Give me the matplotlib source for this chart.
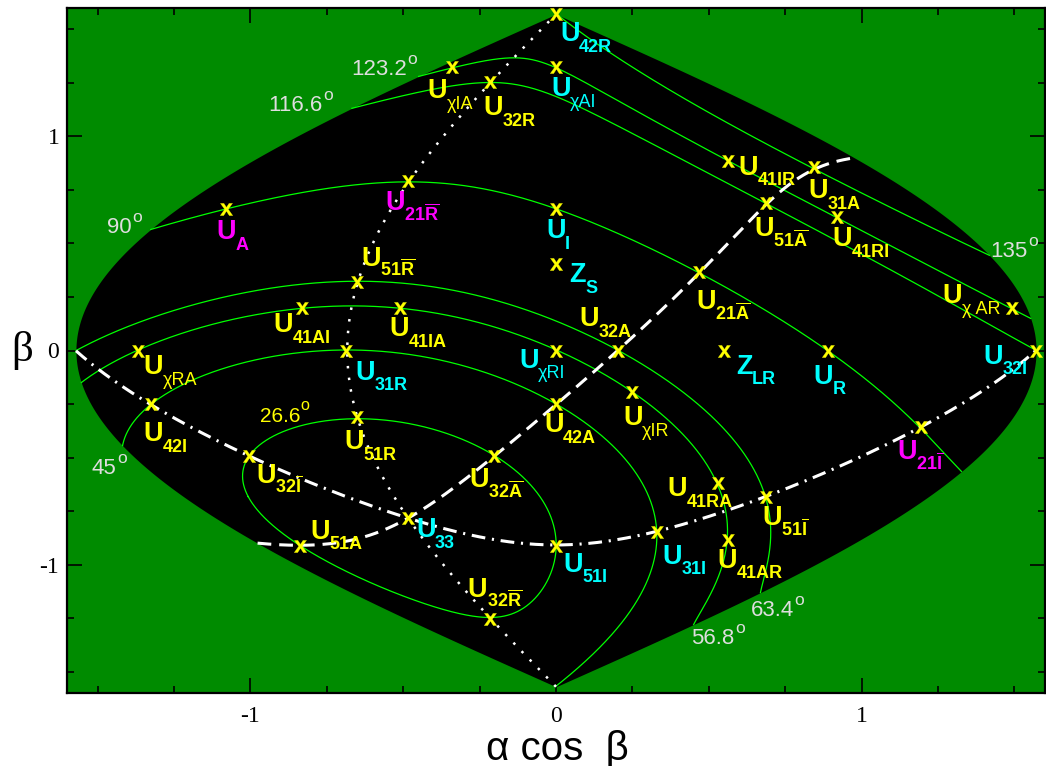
import numpy as np
import matplotlib
matplotlib.use('Agg')
import matplotlib.pyplot as plt
from matplotlib.ticker import MultipleLocator, FixedLocator

plt.rcParams['mathtext.fontset'] = 'custom'
plt.rcParams['mathtext.rm'] = 'Liberation Sans'
plt.rcParams['mathtext.it'] = 'Liberation Sans'
plt.rcParams['mathtext.bf'] = 'Liberation Sans:bold'
plt.rcParams['axes.unicode_minus'] = False

# ---------------- data ----------------
# point symbols: main letter, subscript, projected coords (alpha*cos(beta), beta)
point_main = ['U', 'U', 'U', 'U', 'U', 'U', 'U', 'Z', 'U', 'U',
              'U', 'U', 'U', 'U', 'U', 'Z', 'U', 'U', 'U', 'U',
              'U', 'U', 'U', 'U', 'U', 'U', 'U', 'U', 'U', 'U',
              'U', 'U', 'U', 'U', 'U', 'U', 'U', 'U', 'U']
point_sub = ['42R', 'χAI', 'χIA', '32R', r'$\mathbf{21\overline{R}}$', 'A', 'I', 'S',
             r'$\mathbf{51\overline{R}}$', '41AI',
             '41IA', 'χRA', '31R', 'χRI', '32A', 'LR', 'R', '32I', '41IR', '31A',
             r'$\mathbf{51\overline{A}}$', '41RI', r'$\mathbf{21\overline{A}}$', 'χ AR', '42A',
             'χIR', '42I', r'$\mathbf{32\overline{I}}$', '51R', r'$\mathbf{32\overline{A}}$',
             '33', '51A', '51I', r'$\mathbf{32\overline{R}}$', '41RA', '31I', '41AR',
             r'$\mathbf{51\overline{I}}$', r'$\mathbf{21\overline{I}}$']
point_x = [0.0, 0.0, -0.341, -0.215, -0.484, -1.081, 0.0, 0.0, -0.650, -0.830,
           -0.512, -1.369, -0.686, 0.0, 0.202, 0.549, 0.889, 1.570, 0.562, 0.843,
           0.687, 0.919, 0.469, 1.491, 0.0, 0.249, -1.326, -1.004, -0.650, -0.203,
           -0.484, -0.839, 0.0, -0.217, 0.529, 0.330, 0.562, 0.687, 1.194]
point_y = [1.571, 1.323, 1.323, 1.253, 0.790, 0.661, 0.661, 0.404, 0.321, 0.197,
           0.197, 0.0, 0.0, 0.0, 0.0, 0.0, 0.0, 0.0, 0.886, 0.856,
           0.689, 0.622, 0.365, 0.197, -0.250, -0.195, -0.250, -0.491, -0.312, -0.494,
           -0.783, -0.912, -0.912, -1.254, -0.619, -0.846, -0.885, -0.686, -0.359]
point_color = ['c', 'c', 'y', 'y', 'm', 'm', 'c', 'c', 'y', 'y',
               'y', 'y', 'c', 'c', 'y', 'c', 'c', 'c', 'y', 'y',
               'y', 'y', 'y', 'y', 'y', 'y', 'y', 'y', 'y', 'y',
               'c', 'y', 'c', 'y', 'y', 'c', 'y', 'y', 'm']

# circles of constant angular distance from U_33 (degrees)
circle_angles = [26.6, 45, 56.8, 63.4, 90, 116.6, 123.2, 135]
circle_labels = ['26.6', '45', '56.8', '63.4', '90', '116.6', '123.2', '135']

# ---------------- layout (label offsets in pixels: right, down) ----------------
label_off = [(4, 27), (-5, 29), (-24, 31), (-7, 33), (-23, 29), (-9, 30), (-10, 29), (13, 18),
             (4, -16), (-29, 24), (-10, 28), (6, 24), (9, 29), (-37, 17), (-38, -24), (12, 23),
             (-14, 33), (-52, 13), (11, 14), (-5, 31), (-12, 33), (-4, 29), (-3, 37), (-69, -5),
             (-12, 28), (-9, 33), (-7, 37), (7, 27), (-13, 32), (-25, 31), (8, 19), (11, -7),
             (7, 26), (-22, -22), (-50, 13), (6, 32), (-10, 28), (-4, 28), (-24, 32)]
angle_label_pos = {'26.6': (-0.969, -0.336), '45': (-1.519, -0.577), '56.8': (0.442, -1.371),
                   '63.4': (0.637, -1.242), '90': (-1.470, 0.548), '116.6': (-0.942, 1.120),
                   '123.2': (-0.670, 1.287), '135': (1.422, 0.435)}

cmap = {'y': '#ffff00', 'c': '#00ffff', 'm': '#ff00ff'}

# ---------------- geometry helpers ----------------
def vec(xp, b):
    a = xp / np.cos(b) if abs(np.cos(b)) > 1e-9 else 0.0
    return np.array([np.cos(b) * np.cos(a), np.cos(b) * np.sin(a), np.sin(b)])


def project(V):
    a = np.arctan2(V[1], V[0])
    b = np.arcsin(np.clip(V[2], -1, 1))
    x = a * np.cos(b)
    y = b.copy()
    hidden = V[0] < 0
    x[hidden] = np.nan
    y[hidden] = np.nan
    if hidden.any():
        k = int(np.argmax(hidden))
        x = np.roll(x, -k)
        y = np.roll(y, -k)
    return x, y


t = np.linspace(0, 2 * np.pi, 8001)


def small_circle(c, theta_deg):
    th = np.radians(theta_deg)
    e1 = np.cross(c, [0.0, 0.0, 1.0])
    e1 /= np.linalg.norm(e1)
    e2 = np.cross(c, e1)
    V = np.cos(th) * c[:, None] + np.sin(th) * (np.outer(e1, np.cos(t)) + np.outer(e2, np.sin(t)))
    return project(V)


def great_circle(p, q):
    n = np.cross(p, q)
    n /= np.linalg.norm(n)
    e2 = np.cross(n, p)
    V = np.outer(p, np.cos(t)) + np.outer(e2, np.sin(t))
    return project(V)


names = [m + s for m, s in zip(point_main, point_sub)]
idx = {n: i for i, n in enumerate(names)}
i33 = idx['U33']
C = vec(point_x[i33], point_y[i33])
P_pole = vec(point_x[idx['U42R']], point_y[idx['U42R']] - 1e-6)
P_32A = vec(point_x[idx['U32A']], point_y[idx['U32A']])
P_32I = vec(point_x[idx['U32I']] - 1e-6, point_y[idx['U32I']])

# ---------------- figure ----------------
fig = plt.figure(figsize=(10.46, 7.66), dpi=100)
ax = fig.add_axes([67 / 1046, 73 / 766, 978 / 1046, 685 / 766])
ax.set_facecolor('#008b00')
ax.set_xlim(-1.6, 1.6)
ax.set_ylim(-1.6, 1.6)

bb = np.linspace(-np.pi / 2, np.pi / 2, 1000)
ax.fill_betweenx(bb, -np.pi / 2 * np.cos(bb), np.pi / 2 * np.cos(bb), color='black', lw=0, zorder=1)

for ang in circle_angles:
    x, y = small_circle(C, ang)
    ax.plot(x, y, color='#00ff00', lw=0.9, zorder=2)

x, y = great_circle(C, P_pole)
ax.plot(x, y, color='white', lw=1.8, dashes=(1, 3.7), dash_capstyle='butt', zorder=3)
x, y = great_circle(C, P_32A)
ax.plot(x, y, color='white', lw=2.2, dashes=(4.5, 2.6), dash_capstyle='butt', zorder=3)
x, y = great_circle(C, P_32I)
ax.plot(x, y, color='white', lw=2.2, dashes=(4.5, 2.2, 0.7, 2.2), dash_capstyle='butt', zorder=3)

ax.plot(point_x, point_y, linestyle='none', marker=r'$\mathbf{x}$', ms=9, color='#ffff00',
        mew=0.2, zorder=5)

k = 0.72
for i in range(len(names)):
    col = cmap[point_color[i]]
    dx, dy = label_off[i]
    ax.annotate(point_main[i], (point_x[i], point_y[i]), xytext=(dx * k, -dy * k),
                textcoords='offset points', ha='left', va='baseline', fontsize=19.5,
                fontweight='bold', color=col, family='Liberation Sans', zorder=6)
    w = 19 if point_main[i] == 'U' else 16
    sub = point_sub[i]
    weight = 'normal' if 'χ' in sub else 'bold'
    ax.annotate(sub, (point_x[i], point_y[i]), xytext=((dx + w) * k, -(dy + 10.5) * k),
                textcoords='offset points', ha='left', va='baseline', fontsize=13,
                fontweight=weight, color=col, family='Liberation Sans', zorder=6)

for lab in circle_labels:
    px_, py_ = angle_label_pos[lab]
    col = '#ffff00' if lab == '26.6' else '#dedede'
    fs = 15 if lab == '26.6' else 16
    tx = ax.text(px_, py_, lab, color=col, fontsize=fs, fontweight='normal',
                 family='Liberation Sans', ha='left', va='baseline', zorder=6)
    ax.annotate('o', xy=(1, 0), xycoords=tx, xytext=(0.3, 9.5), textcoords='offset points',
                ha='left', va='bottom', color=col, fontsize=fs * 0.78,
                family='Liberation Sans', zorder=6)

# ticks
ax.xaxis.set_major_locator(FixedLocator([-1, 0, 1]))
ax.yaxis.set_major_locator(FixedLocator([-1, 0, 1]))
ax.xaxis.set_minor_locator(MultipleLocator(0.25))
ax.yaxis.set_minor_locator(MultipleLocator(0.25))
ax.tick_params(which='both', direction='in', top=True, right=True, width=1.2, color='black')
ax.tick_params(which='major', length=10.8)
ax.tick_params(which='minor', length=5)
ax.tick_params(axis='x', pad=9.5)
ax.tick_params(axis='y', pad=5.5)
for lab in ax.get_xticklabels() + ax.get_yticklabels():
    lab.set_family('Liberation Serif')
    lab.set_fontsize(17)
for s in ax.spines.values():
    s.set_linewidth(1.6)

fig.text(22 / 1046, 1 - 351 / 766, 'β', fontsize=31, family='Liberation Serif',
         ha='center', va='center')
fig.text(557 / 1046, 6 / 766, 'α cos  β', fontsize=29, family='Liberation Sans',
         ha='center', va='baseline')

fig.savefig('out.png', dpi=100, facecolor='white')
